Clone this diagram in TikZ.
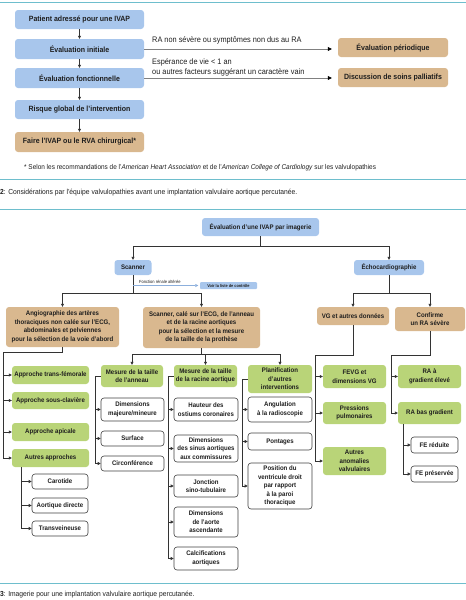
\documentclass[tikz,border=0pt]{standalone}
\usepackage{fontspec}
\setmainfont{Liberation Sans}[FakeStretch=0.92]
\usetikzlibrary{arrows.meta}
\definecolor{cblue}{RGB}{168,198,236}
\definecolor{ctan}{RGB}{217,184,143}
\definecolor{cgreen}{RGB}{185,212,120}
\definecolor{cteal}{RGB}{110,190,205}
\definecolor{clb}{RGB}{140,175,220}
\definecolor{ctext}{RGB}{30,30,30}
\newcommand\mytopfont{\bfseries\fontsize{7.6}{9}\selectfont}
\newcommand\mylowfont{\bfseries\fontsize{6.6}{8.5}\selectfont}
\newcommand\mylblfont{\fontsize{8}{10}\selectfont}
\newcommand\mycapfont{\fontsize{7.3}{9}\selectfont}
\newcommand\myfnfont{\fontsize{7}{9}\selectfont}
\newcommand\mytinyfont{\fontsize{4.4}{5}\selectfont}
\newcommand\mytinybfont{\bfseries\fontsize{4.2}{5}\selectfont}
\begin{document}
\begin{tikzpicture}[x=1pt,y=-1pt,
  sz/.style 2 args={minimum width=#1pt, minimum height=#2pt},
  box/.style={rounded corners=3pt, inner sep=1pt, align=center, text=ctext, font=\mylowfont},
  topbox/.style={box, rounded corners=4pt, font=\mytopfont},
  bbox/.style={box, fill=cblue},
  tbox/.style={box, fill=ctan},
  gbox/.style={box, fill=cgreen},
  wbox/.style={box, fill=white, draw=black!75, line width=0.6pt},
  lbl/.style={inner sep=0pt, text=ctext, font=\mylblfont},
  conn/.style={draw=black!80, line width=0.6pt},
  arr/.style={conn, -{Triangle[length=3pt,width=3pt]}},
  garr/.style={draw=black!50, line width=0.7pt, -{Triangle[length=4pt,width=4pt,black]}, shorten >=6pt},
  larr/.style={draw=clb, line width=0.7pt, -{Triangle[length=3pt,width=3pt]}, shorten >=1.5pt},
  tealline/.style={draw=cteal, line width=0.8pt}
]
\useasboundingbox (0,0) rectangle (466,600);

% ---------------- top figure ----------------
\draw[tealline] (0,2.5) -- (466,2.5);
\node[topbox, bbox, font=\mytopfont, sz={129}{19}] (p1) at (79.5,19.5) {Patient adressé pour une IVAP};
\node[topbox, bbox, font=\mytopfont, sz={129}{20}] (p2) at (79.5,49) {Évaluation initiale};
\node[topbox, bbox, font=\mytopfont, sz={129}{20}] (p3) at (79.5,78) {Évaluation fonctionnelle};
\node[topbox, bbox, font=\mytopfont, sz={129}{19}] (p4) at (79.5,109.5) {Risque global de l'intervention};
\node[topbox, tbox, font=\mytopfont, sz={129}{20}] (p5) at (79.5,142) {Faire l'IVAP ou le RVA chirurgical*};
\node[topbox, tbox, font=\mytopfont, sz={110}{19}] (r1) at (393,47.5) {Évaluation périodique};
\node[topbox, tbox, font=\mytopfont, sz={110}{19}] (r2) at (393,77.5) {Discussion de soins palliatifs};

\draw[arr] (p1) -- (p2);
\draw[arr] (p2) -- (p3);
\draw[arr] (p3) -- (p4);
\draw[arr] (p4) -- (p5);
\draw[garr] (p2.east) -- (p2.east -| r1.west);
\draw[garr] (p3.east) -- (p3.east -| r2.west);
\node[lbl, anchor=base west] (l1) at (152,42) {RA non sévère ou symptômes non dus au RA};
\node[lbl, anchor=base west] (l2) at (152,64.5) {Espérance de vie < 1 an};
\node[lbl, anchor=base west] (l3) at (152,74.5) {ou autres facteurs suggérant un caractère vain};

\node[lbl, font=\myfnfont, anchor=base west] (fn) at (24,169.5) {* Selon les recommandations de l'\textit{American Heart Association} et de l'\textit{American College of Cardiology} sur les valvulopathies};
\draw[tealline] (0,179) -- (466,179);
\node[lbl, font=\mycapfont, anchor=base west] (cap2) at (0,194.5) {\textbf{2}: Considérations par l'équipe valvulopathies avant une implantation valvulaire aortique percutanée.};

% ---------------- second figure ----------------
\draw[tealline] (0,209) -- (466,209);
\node[bbox, sz={117}{18}] (e0) at (260.5,227) {Évaluation d'une IVAP par imagerie};
\node[bbox, sz={37}{15}] (sc) at (133,267.5) {Scanner};
\node[bbox, sz={70}{15}] (ec) at (389,267.5) {Échocardiographie};
\node[bbox, rounded corners=1pt, inner sep=0.5pt, font=\mytinybfont, sz={57}{7}] (vl) at (228.5,285.5) {Voir la liste de contrôle};
\node[lbl, font=\mytinyfont, anchor=base west] (fr) at (139,283.5) {Fonction rénale altérée};

\node[tbox, sz={113}{40}] (an) at (62.5,327) {Angiographie des artères\\thoraciques non calée sur l'ECG,\\abdominales et pelviennes\\pour la sélection de la voie d'abord};
\node[tbox, sz={117}{41}] (se) at (201.5,327.5) {Scanner, calé sur l'ECG, de l'anneau\\et de la racine aortiques\\pour la sélection et la mesure\\de la taille de la prothèse};
\node[tbox, sz={72}{18}] (vg) at (353,316) {VG et autres données};
\node[tbox, sz={70}{24}] (cf) at (430,319) {Confirme\\un RA sévère};

% approaches
\node[gbox, sz={77}{18}] (a1) at (50.5,375) {Approche trans-fémorale};
\node[gbox, sz={77}{17}] (a2) at (50.5,400.5) {Approche sous-clavière};
\node[gbox, sz={77}{18}] (a3) at (50.5,432) {Approche apicale};
\node[gbox, sz={77}{18}] (a4) at (50.5,458) {Autres approches};
\node[wbox, sz={56}{15}] (c1) at (60,481.5) {Carotide};
\node[wbox, sz={56}{15}] (c2) at (60,505.5) {Aortique directe};
\node[wbox, sz={56}{15}] (c3) at (60,528.5) {Transveineuse};

% measures
\node[gbox, sz={62}{22}] (ma) at (132,376) {Mesure de la taille\\de l'anneau};
\node[gbox, sz={63}{22}] (mr) at (205.5,376) {Mesure de la taille\\de la racine aortique};
\node[gbox, sz={64}{28}] (pl) at (280,379) {Planification\\d'autres\\interventions};

\node[wbox, sz={63}{23}] (m1) at (132.5,409.5) {Dimensions\\majeure/mineure};
\node[wbox, sz={63}{15}] (m2) at (132.5,438.5) {Surface};
\node[wbox, sz={63}{15}] (m3) at (132.5,463.5) {Circonférence};

\node[wbox, sz={64}{23}] (q1) at (206,409.5) {Hauteur des\\ostiums coronaires};
\node[wbox, sz={64}{27}] (q2) at (206,448.5) {Dimensions\\des sinus aortiques\\aux commissures};
\node[wbox, sz={64}{22}] (q3) at (206,486) {Jonction\\sino-tubulaire};
\node[wbox, sz={64}{30}] (q4) at (206,522) {Dimensions\\de l'aorte\\ascendante};
\node[wbox, sz={64}{23}] (q5) at (206,558.5) {Calcifications\\aortiques};

\node[wbox, sz={64}{25}] (s1) at (280,409.5) {Angulation\\à la radioscopie};
\node[wbox, sz={64}{17}] (s2) at (280,441.5) {Pontages};
\node[wbox, sz={64}{46}] (s3) at (280,486) {Position du\\ventricule droit\\par rapport\\à la paroi\\thoracique};

% echo side
\node[gbox, sz={63}{23}] (f1) at (354.5,376.5) {FEVG et\\dimensions VG};
\node[gbox, sz={63}{22}] (f2) at (354.5,413) {Pressions\\pulmonaires};
\node[gbox, sz={63}{28}] (f3) at (354.5,461) {Autres\\anomalies\\valvulaires};
\node[gbox, sz={63}{23}] (g1) at (429.5,376.5) {RA à\\gradient élevé};
\node[gbox, sz={63}{22}] (g2) at (429.5,413) {RA bas gradient};
\node[wbox, sz={47}{16}] (h1) at (434.5,445) {FE réduite};
\node[wbox, sz={47}{16}] (h2) at (434.5,474) {FE préservée};

% connectors
\coordinate (j0) at (260.5,246);
\draw[conn] (e0.south) -- (j0);
\draw[arr] (j0) -| (sc.north);
\draw[arr] (j0) -| (ec.north);

\coordinate (j1) at (133,293);
\draw[conn] (sc.south) -- (j1);
\draw[arr] (j1) -| (an.north);
\draw[arr] (j1) -| (se.north);
\coordinate (fr0) at (133,285.5);
\draw[larr] (fr0) -- (vl.west);

\coordinate (j2) at (389,293);
\draw[conn] (ec.south) -- (j2);
\draw[arr] (j2) -| (vg.north);
\draw[arr] (j2) -| (cf.north);

\coordinate (ja) at (62.5,352);
\coordinate (ta) at (3,352);
\draw[conn] (an.south) -- (ja) -- (ta) -- (ta |- a4.west);
\foreach \n in {a1,a2,a3,a4} \draw[arr] (ta |- \n.west) -- (\n.west);
\coordinate (tb) at (21,467);
\draw[conn] (tb) -- (tb |- c3.west);
\foreach \n in {c1,c2,c3} \draw[arr] (tb |- \n.west) -- (\n.west);

\coordinate (js) at (201.5,354);
\draw[conn] (se.south) -- (js);
\draw[arr] (js) -| (ma.north);
\draw[arr] (js) -| (mr.north);
\draw[arr] (js) -| (pl.north);

\coordinate (tm) at (95,376);
\draw[conn] (ma.west) -- (tm) -- (tm |- m3.west);
\foreach \n in {m1,m2,m3} \draw[arr] (tm |- \n.west) -- (\n.west);
\coordinate (tr) at (168,376);
\draw[conn] (mr.west) -- (tr) -- (tr |- q5.west);
\foreach \n in {q1,q2,q3,q4,q5} \draw[arr] (tr |- \n.west) -- (\n.west);
\coordinate (tp) at (242,379);
\draw[conn] (pl.west) -- (tp) -- (tp |- s3.west);
\foreach \n in {s1,s2,s3} \draw[arr] (tp |- \n.west) -- (\n.west);

\coordinate (jv) at (353,355);
\coordinate (tv) at (315,355);
\draw[conn] (vg.south) -- (jv) -- (tv) -- (tv |- f3.west);
\foreach \n in {f1,f2,f3} \draw[arr] (tv |- \n.west) -- (\n.west);
\coordinate (jc) at (430,355);
\coordinate (tc) at (391,355);
\draw[conn] (cf.south) -- (jc) -- (tc) -- (tc |- g2.west);
\foreach \n in {g1,g2} \draw[arr] (tc |- \n.west) -- (\n.west);
\coordinate (tg) at (403,424);
\draw[conn] (tg) -- (tg |- h2.west);
\foreach \n in {h1,h2} \draw[arr] (tg |- \n.west) -- (\n.west);

\draw[tealline] (0,583) -- (466,583);
\node[lbl, font=\mycapfont, anchor=base west] (cap3) at (0,596.5) {\textbf{3}: Imagerie pour une implantation valvulaire aortique percutanée.};
\end{tikzpicture}
\end{document}
